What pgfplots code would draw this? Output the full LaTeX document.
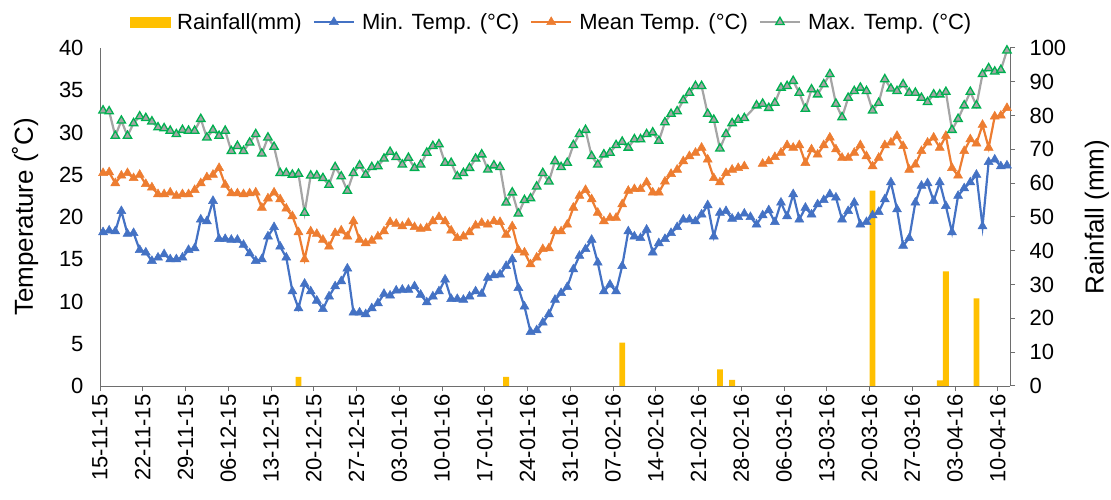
\documentclass[border=0pt]{standalone}
\usepackage{pgfplots}
\usepackage{pgfplotstable}
\pgfplotsset{compat=1.18}
\usepackage{fontspec}
\setmainfont{Liberation Sans}
\definecolor{minc}{HTML}{4472C4}
\definecolor{meanc}{HTML}{ED7D31}
\definecolor{maxc}{HTML}{A5A5A5}
\definecolor{maxm}{HTML}{00B050}
\definecolor{rainc}{HTML}{FFC000}
\definecolor{axc}{HTML}{6E6E6E}

\pgfplotstableread{
k min mean max
0 18.2 25.2 32.6
1 18.4 25.3 32.5
2 18.3 24.0 29.6
3 20.7 24.9 31.4
4 18.0 25.2 29.6
5 18.1 24.6 31.1
6 16.1 25.0 31.9
7 15.8 23.9 31.7
8 14.8 23.5 31.3
9 15.2 22.7 30.6
10 15.6 22.7 30.5
11 15.0 22.9 30.2
12 15.0 22.5 29.8
13 15.2 22.7 30.3
14 16.1 22.7 30.2
15 16.3 23.2 30.2
16 19.7 24.0 31.6
17 19.5 24.7 29.4
18 21.9 25.0 30.3
19 17.4 25.8 29.6
20 17.4 23.8 30.2
21 17.3 22.8 27.8
22 17.3 22.8 28.4
23 16.7 22.7 27.8
24 15.7 22.8 28.8
25 14.8 22.9 29.8
26 15.0 21.1 27.5
27 17.7 22.2 29.4
28 18.8 22.9 28.3
29 16.5 22.1 25.2
30 15.2 21.0 25.2
31 11.2 20.1 25.0
32 9.2 18.2 25.1
33 12.1 15.0 20.5
34 11.2 18.3 24.9
35 10.1 18.0 24.9
36 9.1 17.3 24.6
37 10.6 16.5 23.8
38 11.8 18.1 25.9
39 12.4 18.4 24.8
40 13.9 17.7 23.1
41 8.7 19.5 25.2
42 8.7 17.3 26.1
43 8.5 16.9 25.0
44 9.2 17.2 25.9
45 9.8 17.7 26.0
46 10.9 18.3 26.9
47 10.7 19.4 27.7
48 11.3 19.2 27.1
49 11.4 18.9 26.2
50 11.4 19.3 27.0
51 11.8 18.8 25.8
52 10.8 18.6 26.2
53 9.9 18.7 27.6
54 10.6 19.5 28.4
55 11.2 20.0 28.6
56 12.6 19.5 26.4
57 10.3 18.4 26.4
58 10.3 17.5 24.8
59 10.2 17.7 25.2
60 10.6 18.2 25.8
61 11.2 19.0 26.9
62 10.9 19.3 27.4
63 12.8 19.1 25.6
64 13.1 19.5 26.1
65 13.2 19.4 25.9
66 14.2 17.9 21.7
67 15.0 18.9 22.9
68 11.6 16.1 20.4
69 9.4 15.8 22.0
70 6.4 14.4 22.2
71 6.6 15.2 23.6
72 7.5 16.2 25.2
73 8.5 16.3 24.2
74 10.2 18.3 26.6
75 11.0 18.3 25.9
76 11.7 19.1 26.4
77 13.8 21.1 28.5
78 15.4 22.5 29.8
79 16.2 23.2 30.3
80 17.3 22.1 27.2
81 14.6 20.5 26.2
82 11.2 19.5 27.4
83 12.0 19.9 27.6
84 11.2 19.9 28.5
85 14.2 21.5 28.9
86 18.3 23.1 28.2
87 17.7 23.3 29.2
88 17.5 23.3 29.2
89 18.5 24.1 29.8
90 15.8 22.9 30.0
91 16.9 22.9 29.0
92 17.4 24.2 31.2
93 18.1 25.1 32.2
94 18.8 25.6 32.5
95 19.7 26.6 33.8
96 19.7 27.2 34.7
97 19.5 27.6 35.5
98 20.3 28.2 35.5
99 21.4 26.8 32.2
100 17.7 24.6 31.5
101 20.5 24.1 28.1
102 20.7 25.2 29.8
103 19.8 25.6 31.1
104 20.0 25.8 31.5
105 20.4 26.0 31.7
106 20.0 nan nan
107 19.1 nan 33.2
108 20.2 26.3 33.4
109 20.8 26.6 32.9
110 19.4 27.1 33.5
111 21.7 27.6 35.3
112 20.1 28.5 35.5
113 22.7 28.2 36.1
114 19.7 28.5 34.7
115 21.1 26.4 32.8
116 20.3 28.0 35.1
117 21.5 27.4 34.5
118 22.0 28.5 35.7
119 22.7 29.4 36.9
120 22.3 28.0 33.4
121 19.7 27.0 31.8
122 20.7 27.0 34.1
123 21.7 27.6 34.9
124 19.1 28.5 35.3
125 19.4 27.2 34.9
126 20.2 26.0 32.6
127 20.6 27.0 33.5
128 22.1 28.5 36.3
129 24.1 28.8 35.2
130 20.9 29.6 34.9
131 16.6 28.4 35.7
132 17.5 25.6 34.7
133 21.7 26.2 34.7
134 23.7 27.8 34.1
135 24.0 28.8 33.6
136 21.9 29.4 34.5
137 24.1 28.2 34.5
138 21.3 29.6 34.8
139 18.2 25.8 30.3
140 22.5 24.9 31.6
141 23.4 27.8 33.2
142 24.1 29.2 34.8
143 25.0 28.7 33.2
144 18.9 30.9 36.9
145 26.5 28.2 37.6
146 26.8 31.9 37.2
147 26.0 32.0 37.4
148 26.1 32.9 39.7
}\temps

\pgfplotstableread{
k rain
32 2.7
66 2.7
85 12.8
101 4.9
103 1.8
126 57.8
137 1.7
138 33.9
143 25.9
}\rain

\begin{document}
\begin{tikzpicture}
\useasboundingbox (0,0) rectangle (1111bp,500bp);
% rainfall axis (right)
\begin{axis}[
  scale only axis, width=910bp, height=338bp,
  at={(100bp,114bp)}, anchor=south west,
  xmin=-0.5, xmax=148.5, ymin=0, ymax=100,
  axis x line=none, axis y line*=right,
  ytick={0,10,...,100},
  tick align=outside, major tick length=5bp,
  axis line style={draw=axc, line width=1bp},
  tick style={draw=axc, line width=1bp},
  /pgf/number format/assume math mode=true,
  y tick label style={font=\fontsize{22bp}{26bp}\selectfont, anchor=west, xshift=11bp},
  ylabel={Rainfall (mm)},
  ylabel style={font=\fontsize{26bp}{30bp}\selectfont, at={(axis description cs:1.0956,0.5)}, anchor=center, rotate=0},
]
\addplot[ybar, bar width=0.95, fill=rainc, draw=none] table[x=k, y=rain] {\rain};
\end{axis}
% temperature axis (left)
\begin{axis}[
  scale only axis, width=910bp, height=338bp,
  at={(100bp,114bp)}, anchor=south west,
  xmin=-0.5, xmax=148.5, ymin=0, ymax=40,
  axis x line*=bottom, axis y line*=left,
  clip=false,
  ytick={0,5,...,40},
  xtick={-0.5,6.5,...,146.5},
  xticklabels={15-11-15,22-11-15,29-11-15,06-12-15,13-12-15,20-12-15,27-12-15,03-01-16,10-01-16,17-01-16,24-01-16,31-01-16,07-02-16,14-02-16,21-02-16,28-02-16,06-03-16,13-03-16,20-03-16,27-03-16,03-04-16,10-04-16},
  tick align=outside, major tick length=5bp,
  ytick style={draw=none},
  xtick style={draw=axc, line width=1bp},
  axis line style={draw=axc, line width=1bp},
  /pgf/number format/assume math mode=true,
  y tick label style={font=\fontsize{22bp}{26bp}\selectfont, xshift=-8bp},
  x tick label style={font=\fontsize{22bp}{26bp}\selectfont, rotate=90, anchor=east},
  ylabel={Temperature (˚C)},
  ylabel style={font=\fontsize{26bp}{30bp}\selectfont, at={(axis description cs:-0.0824,0.5)}, anchor=center},
  legend columns=4,
  legend style={at={(0.4956,1.0769)}, anchor=center, draw=none, fill=none,
    font=\fontsize{22bp}{26bp}\selectfont, inner sep=0bp,
    nodes={inner sep=1bp},
    /tikz/every odd column/.append style={column sep=6bp},
    /tikz/every even column/.append style={column sep=10bp}},
  legend cell align=left,
  legend image code/.code={\draw[mark repeat=2,mark phase=2,#1] plot coordinates {(0bp,0bp) (20bp,0bp) (40bp,0bp)};},
]
\addlegendimage{legend image code/.code={\fill[rainc] (0bp,-5bp) rectangle (40bp,5bp);}}
\addlegendentry{Rainfall(mm)}
\addplot[color=minc, line width=2.2bp, mark=triangle*, mark size=5.2bp,
  mark options={fill=minc, draw=minc, line width=0.5bp}] table[x=k, y=min] {\temps};
\addlegendentry{Min. Temp. (°C)}
\addplot[color=meanc, line width=2.2bp, mark=triangle*, mark size=5.2bp, unbounded coords=jump,
  mark options={fill=meanc, draw=meanc, line width=0.5bp}] table[x=k, y=mean] {\temps};
\addlegendentry{Mean Temp. (°C)}
\addplot[color=maxc, line width=2.2bp, mark=triangle*, mark size=4.8bp,
  mark options={fill=maxc, draw=maxm, line width=1.3bp}] table[x=k, y=max] {\temps};
\addlegendentry{Max. Temp. (°C)}
\end{axis}
\end{tikzpicture}
\end{document}
